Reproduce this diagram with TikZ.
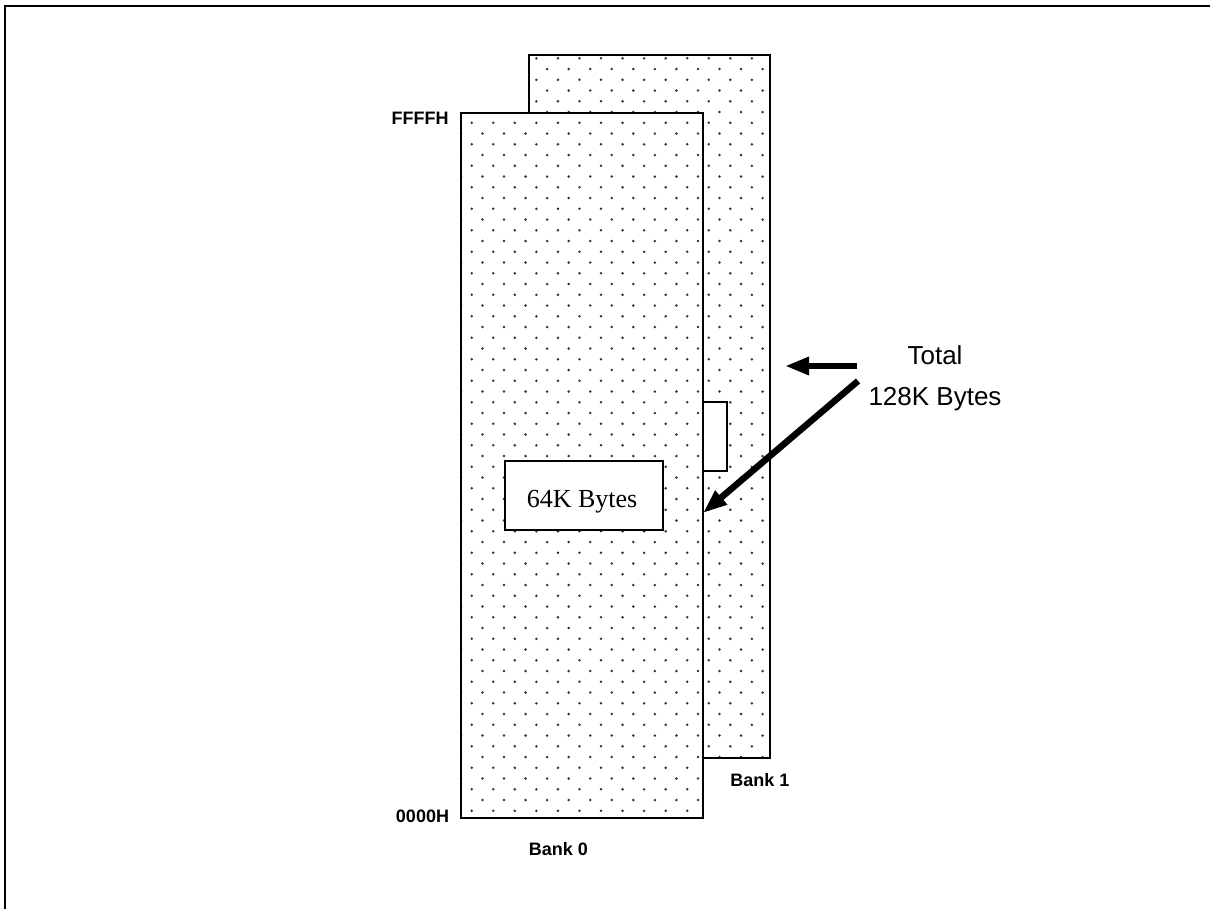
\documentclass[tikz,border=0pt]{standalone}
\usepackage{fontspec}
\setmainfont{Liberation Serif}
\setsansfont{Liberation Sans}
\usetikzlibrary{arrows.meta}
\newcommand\mydotfield{%
  \foreach \j in {0,...,71}{%
    \pgfmathsetmacro\yy{58.3+10.75*\j}%
    \pgfmathsetmacro\xo{mod(\j,2)*10.78}%
    \foreach \k in {0,...,15}{%
      \fill[dotc] ({450.15+\xo+21.55*\k},\yy) circle (1.4pt);
    }%
  }%
}
\begin{document}
\begin{tikzpicture}[x=1pt,y=-1pt,
  dotc/.style={fill=black!80},
  bankborder/.style={draw=black,line width=2.9pt},
  whitebox/.style={draw=black,fill=white,line width=2.8pt},
  addr/.style={font=\sffamily\bfseries\fontsize{18}{20}\selectfont,anchor=base,inner sep=0pt},
  bigtext/.style={font=\sffamily\fontsize{26}{30}\selectfont,anchor=base,inner sep=0pt},
  bigarrow/.style={line width=6.5pt,-{Triangle[length=24pt,width=17pt]}}]
\useasboundingbox (0,0) rectangle (1210,909);
\fill[white] (0,0) rectangle (1210,909);
% frame
\coordinate (fbl) at (5,909);
\coordinate (ftl) at (5,6);
\coordinate (ftr) at (1210,6);
\draw[line width=2.4pt] (fbl) -- (ftl) -- (ftr);
% corner coordinates
\coordinate (b1nw) at (529,55);
\coordinate (b1se) at (770,758);
\coordinate (b0nw) at (461,113);
\coordinate (b0se) at (703,818);
% bank 1
\begin{scope}
  \clip (b1nw) rectangle (b1se);
  \mydotfield
\end{scope}
\draw[bankborder] (b1nw) rectangle (b1se);
% bank 0
\fill[white] (b0nw) rectangle (b0se);
\begin{scope}
  \clip (b0nw) rectangle (b0se);
  \mydotfield
\end{scope}
\draw[bankborder] (b0nw) rectangle (b0se);
% small white box on bank 1
\node[whitebox,minimum width=24pt,minimum height=69pt,inner sep=0pt] (small) at (715,436.5) {};
% 64K box
\node[whitebox,minimum width=158pt,minimum height=69pt,inner sep=0pt] (k64) at (584,495.5) {};
\node[font=\fontsize{26}{30}\selectfont,anchor=base,inner sep=0pt] (k64t) at (582,507.3) {64K Bytes};
% labels
\node[addr] (ffff) at (420,125) {FFFFH};
\node[addr] (zero) at (422.5,822.7) {0000H};
\node[addr] (bank0) at (558.5,855) {Bank 0};
\node[addr] (bank1) at (760,786.7) {Bank 1};
\node[bigtext] (total) at (935,364) {Total};
\node[bigtext] (tot128) at (935,405) {128K Bytes};
% arrows
\coordinate (s1) at (857,366);
\coordinate (t1) at (785,366);
\coordinate (s2) at (858,381);
\coordinate (t2) at (703,513);
\draw[bigarrow] (s1) -- (t1);
\draw[bigarrow] (s2) -- (t2);
\end{tikzpicture}
\end{document}
